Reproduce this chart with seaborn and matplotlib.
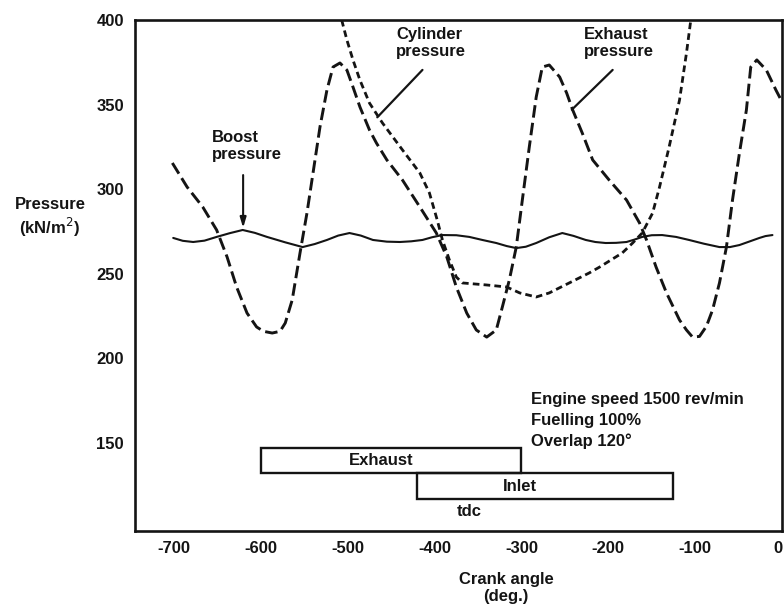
import matplotlib
matplotlib.use("Agg")
import matplotlib.pyplot as plt
import seaborn as sns

# Exhaust manifold pressure trace (crank angle deg, kN/m^2)
exhaust_angle = [-702, -685, -667, -651, -639, -628, -616, -605, -597, -587,
                 -578, -572, -564, -555, -547, -540, -532, -524, -517, -509,
                 -501, -494, -486, -475, -467, -455, -437, -417, -398, -386,
                 -375, -363, -352, -340, -329, -322, -314, -306, -299, -291,
                 -283, -276, -268, -256, -248, -241, -230, -218, -199, -179,
                 -164, -156, -145, -133, -118, -110, -103, -95, -87, -80,
                 -72, -64, -57, -49, -41, -36, -29, -18, -7, -1]
exhaust_pressure = [315.5, 301.3, 289.5, 275.9, 260.0, 242.2, 226.8, 218.6, 216.0, 215.0,
                    216.0, 220.9, 234.5, 262.3, 285.9, 309.6, 336.8, 358.6, 372.2, 374.6,
                    370.4, 360.4, 348.6, 335.0, 327.3, 317.3, 305.4, 289.5, 274.1, 260.0,
                    242.2, 226.8, 216.8, 212.6, 216.8, 230.4, 246.3, 265.8, 293.6, 324.9,
                    354.5, 372.2, 373.4, 366.3, 356.9, 346.8, 333.2, 317.3, 305.4, 293.6,
                    280.0, 270.0, 254.0, 238.7, 222.7, 216.8, 212.6, 213.0, 219.0, 228.6,
                    244.6, 265.8, 293.6, 321.4, 346.8, 372.2, 376.4, 370.4, 358.6, 352.7]

# Cylinder pressure trace
cylinder_angle = [-507, -501, -494, -486, -475, -460, -437, -417, -406, -397,
                  -391, -383, -375, -368, -340, -317, -302, -283, -268, -245,
                  -222, -210, -184, -172, -161, -149, -141, -130, -118, -110, -105]
cylinder_pressure = [400.0, 388.2, 376.4, 364.5, 350.9, 339.1, 323.2, 309.6, 297.8, 281.8,
                     270.0, 258.2, 248.1, 244.6, 243.4, 242.2, 238.7, 236.3, 238.7, 244.6,
                     250.5, 254.0, 262.3, 268.2, 274.1, 285.9, 301.3, 324.9, 352.7, 380.5, 400.0]

# Boost (inlet manifold) pressure trace
boost_angle = [-701, -690, -678, -665, -651, -636, -621, -607, -593, -572,
               -552, -538, -524, -511, -498, -485, -471, -455, -440, -427,
               -414, -403, -391, -375, -360, -345, -329, -317, -306, -295,
               -283, -268, -253, -240, -226, -215, -203, -191, -179, -170,
               -161, -150, -138, -122, -107, -90, -72, -60, -49, -38,
               -26, -19, -11]
boost_pressure = [271.2, 269.5, 268.8, 269.6, 271.8, 274.0, 275.9, 274.2, 271.8, 268.6,
                  265.8, 267.6, 270.0, 272.6, 274.1, 272.6, 270.0, 269.0, 268.8, 269.2,
                  270.0, 271.6, 272.9, 272.8, 271.8, 270.0, 268.2, 266.4, 265.2, 266.0,
                  268.2, 271.6, 274.1, 272.4, 270.0, 268.8, 268.2, 268.3, 268.8, 270.2,
                  271.8, 272.8, 272.9, 271.8, 270.0, 267.8, 265.8, 265.8, 267.0, 269.0,
                  271.2, 272.3, 272.9]

# Valve timing (crank angle deg)
valve_names = ["Exhaust", "Inlet"]
valve_open = [-600, -420]
valve_close = [-300, -125]

x_ticks = [-700, -600, -500, -400, -300, -200, -100, 0]
x_tick_labels = ["-700", "-600", "-500", "-400", "-300", "-200", "-100", "0"]
y_ticks = [150, 200, 250, 300, 350, 400]
y_tick_labels = ["150", "200", "250", "300", "350", "400"]
tdc_angle = -360

conditions = ["Engine speed 1500 rev/min", "Fuelling 100%", "Overlap 120°"]

sns.set_theme(style="white")
plt.rcParams["font.family"] = ["Liberation Sans", "DejaVu Sans"]
plt.rcParams["axes.unicode_minus"] = False

ink = "#141414"
fs = 12

fig = plt.figure(figsize=(7.84, 6.08), dpi=100)
ax = fig.add_axes([135 / 784, 77 / 608, 647 / 784, 511 / 608])

sns.lineplot(x=boost_angle, y=boost_pressure, ax=ax, color=ink, lw=1.5,
             estimator=None, sort=False)
sns.lineplot(x=exhaust_angle, y=exhaust_pressure, ax=ax, color=ink, lw=2.1,
             estimator=None, sort=False, linestyle=(0, (4.3, 1.8)))
sns.lineplot(x=cylinder_angle, y=cylinder_pressure, ax=ax, color=ink, lw=2.0,
             estimator=None, sort=False, linestyle=(0, (2.4, 1.5)))

# Valve opening periods as outlined bars
bar_rows = [139.5, 124.5]
widths = [c - o for o, c in zip(valve_open, valve_close)]
ax.barh(bar_rows, widths, left=valve_open, height=15, fill=False,
        edgecolor=ink, linewidth=1.7)
ax.text(-462, bar_rows[0], valve_names[0], ha="center", va="center",
        fontsize=fs, fontweight="bold", color=ink)
ax.text(-302, bar_rows[1], valve_names[1], ha="center", va="center",
        fontsize=fs, fontweight="bold", color=ink)
ax.text(tdc_angle, 109.5, "tdc", ha="center", va="center",
        fontsize=fs, fontweight="bold", color=ink)

ax.text(-289, 180, "\n".join(conditions), ha="left", va="top",
        fontsize=fs, fontweight="bold", color=ink, linespacing=1.45)

# Trace labels with leader lines
ax.text(-656, 335, "Boost\npressure", ha="left", va="top",
        fontsize=fs, fontweight="bold", color=ink, linespacing=1.2)
ax.annotate("", xy=(-620.5, 275.5), xytext=(-620.5, 310),
            arrowprops=dict(arrowstyle="-|>,head_length=0.5,head_width=0.15",
                            color=ink, lw=1.5))
ax.text(-444, 396, "Cylinder\npressure", ha="left", va="top",
        fontsize=fs, fontweight="bold", color=ink, linespacing=1.15)
ax.plot([-414, -466], [370.5, 342.5], color=ink, lw=1.6)
ax.text(-228, 396, "Exhaust\npressure", ha="left", va="top",
        fontsize=fs, fontweight="bold", color=ink, linespacing=1.15)
ax.plot([-195, -242], [370.5, 347], color=ink, lw=1.6)

ax.set_xlim(-745, 0)
ax.set_ylim(98, 400)
ax.set_xticks(x_ticks + [tdc_angle])
ax.set_xticklabels(x_tick_labels + [""])
ax.set_yticks(y_ticks)
ax.set_yticklabels(y_tick_labels)
ax.tick_params(axis="x", direction="in", length=9, width=1.5, pad=7,
               labelsize=fs, colors=ink)
ax.tick_params(axis="y", direction="in", length=12, width=1.5, pad=8,
               labelsize=fs, colors=ink)
for lab in ax.get_xticklabels() + ax.get_yticklabels():
    lab.set_fontweight("bold")
# keep the end label inside the figure edge
ax.get_xticklabels()[7].set_horizontalalignment("right")
for sp in ax.spines.values():
    sp.set_visible(True)
    sp.set_color(ink)
    sp.set_linewidth(1.9)

ax.set_xlabel("Crank angle\n(deg.)", fontsize=fs, fontweight="bold", color=ink,
              linespacing=1.2)
ax.xaxis.set_label_coords((506 - 135) / 647, (531 - 588) / 511)
ax.xaxis.label.set_va("center")
ax.set_ylabel("Pressure\n(kN/m$^2$)", fontsize=fs, fontweight="bold", color=ink,
              rotation=0, linespacing=1.25)
ax.yaxis.set_label_coords((50 - 135) / 647, (531 - 218) / 511)
ax.yaxis.label.set_va("center")
ax.yaxis.label.set_ha("center")

fig.savefig("out.png", dpi=100, facecolor="white")
